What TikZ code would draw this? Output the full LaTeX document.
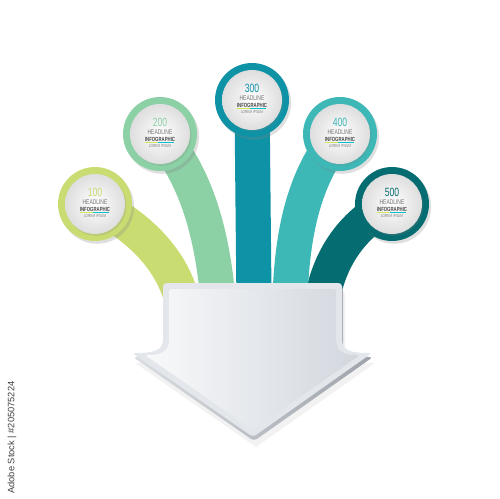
\documentclass[tikz,border=0pt]{standalone}
\usepackage{fontspec}
\setmainfont{Liberation Sans}
\newfontfamily\infofont[FakeStretch=0.72]{Liberation Sans}
\usetikzlibrary{shadows}

\definecolor{cA}{HTML}{C8DC72}
\definecolor{cB}{HTML}{8CD0A5}
\definecolor{cC}{HTML}{0E93A6}
\definecolor{cD}{HTML}{3DB8B6}
\definecolor{cE}{HTML}{056C71}
\definecolor{arrowrim}{HTML}{E3E6EA}
\definecolor{arrowlight}{HTML}{F8F9FA}
\definecolor{arrowdark}{HTML}{D2D7DE}
\definecolor{sidelight}{HTML}{DADDE1}
\definecolor{sidedark}{HTML}{9EA3AB}

\tikzset{
  band/.style={line width=20pt,line cap=butt},
  ring/.style={circle,minimum size=1.48cm,inner sep=0pt,
    drop shadow={shadow xshift=1.2pt,shadow yshift=-1.6pt,opacity=.25}},
  disc/.style={circle,minimum size=1.2cm,inner sep=0pt,inner color=white,outer color=black!13,
    drop shadow={shadow xshift=.8pt,shadow yshift=-1pt,opacity=.2}},
  numtext/.style={inner sep=0pt,font=\infofont\fontsize{6.8}{7}\selectfont},
  headtext/.style={inner sep=0pt,text=black!55,font=\infofont\fontsize{3.9}{4}\selectfont},
  infotext/.style={inner sep=0pt,text=black!72,font=\infofont\bfseries\fontsize{3.4}{4}\selectfont},
  loremtext/.style={inner sep=0pt,text=black!50,font=\infofont\fontsize{2.5}{3}\selectfont}
}

\begin{document}
\begin{tikzpicture}[x=0.02cm,y=-0.02cm]
\useasboundingbox (0,0) rectangle (500,498);

% centres of the circles and foot of each band
\foreach \x/\y [count=\n] in {95/204,160/134,252/100,340/134,392/204}
  \coordinate (p\n) at (\x,\y);
\foreach \x [count=\n] in {182,218,254,290,322}
  \coordinate (b\n) at (\x,300);

% bands
\draw[band,cA] (p1) .. controls (135,225) and (170,255) .. (b1);
\draw[band,cB] (p2) .. controls (195,175) and (212,230) .. (b2);
\draw[band,cE] (p5) .. controls (355,222) and (330,255) .. (b5);
\draw[band,cD] (p4) .. controls (305,175) and (292,230) .. (b4);
\draw[band,cC] (p3) -- (b3);

% arrow
\fill[black,opacity=.05,shift={(3,10)}] (163,283) -- (342,283) -- (342,336) .. controls (342,350) and (350,353) .. (372,353) -- (253,437) -- (132,353) .. controls (155,353) and (163,350) .. (163,336) -- cycle;
\shade[left color=sidelight,right color=sidedark,shift={(1,4)},rounded corners=2pt] (163,283) -- (342,283) -- (342,336) .. controls (342,350) and (350,353) .. (372,353) -- (253,437) -- (132,353) .. controls (155,353) and (163,350) .. (163,336) -- cycle;
\fill[arrowrim,rounded corners=2pt] (163,283) -- (342,283) -- (342,336) .. controls (342,350) and (350,353) .. (372,353) -- (253,437) -- (132,353) .. controls (155,353) and (163,350) .. (163,336) -- cycle;
\shade[left color=arrowlight,right color=arrowdark,rounded corners=1.5pt] (169,289) -- (336,289) -- (336,337) .. controls (336,352) and (345,355) .. (360,355) -- (253,430) -- (145,355) .. controls (160,355) and (169,352) .. (169,337) -- cycle;

% circles
\foreach \x/\y/\col/\num [count=\n] in {95/204/cA/100,160/134/cB/200,252/100/cC/300,340/134/cD/400,392/204/cE/500}
{
  \node[ring,fill=\col] (ring\n) at (p\n) {};
  \node[disc] (disc\n) at (ring\n) {};
  \node[numtext,text=\col] (num\n) at (\x,\y-12) {\num};
  \node[headtext] (head\n) at (\x,\y-2) {HEADLINE};
  \node[infotext] (info\n) at (\x,\y+5) {INFOGRAPHIC};
  \draw[cA!80!yellow,line width=.5pt] (\x-15,\y+8.5) -- (\x-2,\y+8.5);
  \draw[cC!60!cyan,line width=.5pt] (\x-2,\y+8.5) -- (\x+14,\y+8.5);
  \node[loremtext] (lorem\n) at (\x,\y+12) {LOREM IPSUM};
}

\node[rotate=90,anchor=west,inner sep=0pt,text=black!75,font=\fontsize{5.3}{6}\selectfont] (stockid) at (12,494) {Adobe Stock | \#205075224};
\end{tikzpicture}
\end{document}
